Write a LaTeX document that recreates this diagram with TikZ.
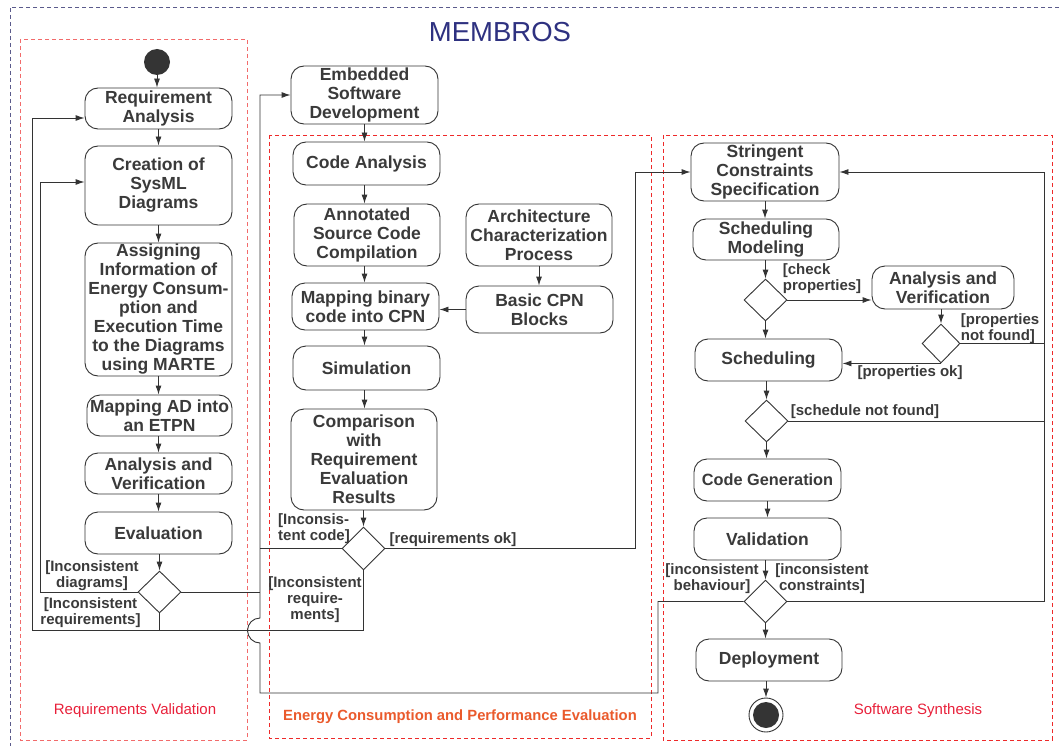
\documentclass[tikz,border=0pt]{standalone}
\usepackage{fontspec}
\setmainfont{Liberation Sans}
\usetikzlibrary{arrows.meta,shapes.geometric}
\definecolor{ink}{HTML}{3A3A3A}
\definecolor{edge}{HTML}{333333}
\definecolor{lanered}{HTML}{EE2A2A}
\definecolor{lanepink}{HTML}{F26B6B}
\definecolor{outerline}{HTML}{5B5B8C}
\definecolor{titleblue}{HTML}{2E3180}
\definecolor{lblred}{HTML}{E8203A}
\definecolor{lblorange}{HTML}{EA5A2C}

\begin{document}
\begin{tikzpicture}[x=1pt,y=-1pt,
  act/.style={draw=edge, line width=0.9pt, rounded corners=13pt, fill=white,
    text=ink, font=\bfseries\fontsize{17.5}{19}\selectfont, align=center, inner sep=0pt},
  dec/.style={draw=edge, line width=0.9pt, diamond, inner sep=0pt, fill=white},
  guard/.style={text=ink, font=\bfseries\fontsize{15}{16}\selectfont, inner sep=0pt},
  flow/.style={draw=edge, line width=0.9pt},
  arr/.style={flow, -{Latex[length=9pt,width=6pt]}},
  lanebox/.style={dash pattern=on 4pt off 3pt, line width=0.9pt},
  lanetitle/.style={font=\fontsize{15}{16}\selectfont, inner sep=0pt}
]
\useasboundingbox (0,0) rectangle (1059,746);

% frame and swimlanes
\draw[outerline, lanebox] (1059,7) -- (10,7) -- (10,746);
\node[text=titleblue, font=\fontsize{27.5}{30}\selectfont, inner sep=0pt] (title) at (500,32) {MEMBROS};
\draw[lanepink, lanebox] (20,39) rectangle (247,740);
\draw[lanered, lanebox] (269,135) rectangle (651,738);
\draw[lanered, lanebox] (663,135) rectangle (1052,740);
\node[lanetitle, text=lblred] (laneA) at (135,711) {Requirements Validation};
\node[lanetitle, text=lblorange, font=\bfseries\fontsize{14.8}{16}\selectfont] (laneB) at (460,717) {Energy Consumption and Performance Evaluation};
\node[lanetitle, text=lblred] (laneC) at (918,711) {Software Synthesis};

% requirements validation
\node[circle, fill=ink!90!black, minimum size=26, inner sep=0pt] (init) at (157,62) {};
\node[act, minimum width=147, minimum height=41] (ra) at (158.5,108.5) {Requirement\\Analysis};
\node[act, minimum width=147, minimum height=79] (sysml) at (158.5,185.5) {Creation of\\SysML\\Diagrams};
\node[act, minimum width=147, minimum height=133] (assign) at (158.5,309.5) {Assigning\\Information of\\Energy Consum-\\ption and\\Execution Time\\to the Diagrams\\using MARTE};
\node[act, minimum width=145, minimum height=41] (etpn) at (159.5,415.5) {Mapping AD into\\an ETPN};
\node[act, minimum width=147, minimum height=41] (av1) at (158.5,473.5) {Analysis and\\Verification};
\node[act, minimum width=147, minimum height=42] (eval) at (158.5,533) {Evaluation};
\node[dec, minimum width=43, minimum height=42] (d1) at (159.5,592) {};

% energy consumption and performance evaluation
\node[act, minimum width=147, minimum height=58] (esd) at (364.5,95) {Embedded\\Software\\Development};
\node[act, minimum width=147, minimum height=43] (ca) at (366.5,163.5) {Code Analysis};
\node[act, minimum width=146, minimum height=62] (asc) at (367,235) {Annotated\\Source Code\\Compilation};
\node[act, minimum width=147, minimum height=47] (mb) at (365.5,306.5) {Mapping binary\\code into CPN};
\node[act, minimum width=146, minimum height=62] (acp) at (539,235) {Architecture\\Characterization\\Process};
\node[act, minimum width=147, minimum height=47] (cpn) at (539.5,309.5) {Basic CPN\\Blocks};
\node[act, minimum width=147, minimum height=44] (sim) at (366.5,368) {Simulation};
\node[act, minimum width=146, minimum height=101] (cmp) at (364,459.5) {Comparison\\with\\Requirement\\Evaluation\\Results};
\node[dec, minimum width=43, minimum height=43] (d2) at (363.5,548.5) {};

% software synthesis
\node[act, minimum width=148, minimum height=58] (scs) at (765,172) {Stringent\\Constraints\\Specification};
\node[act, minimum width=146, minimum height=41] (sm) at (766,239.5) {Scheduling\\Modeling};
\node[dec, minimum width=43, minimum height=42] (d3) at (765.5,300) {};
\node[act, minimum width=142, minimum height=43] (av2) at (943,287.5) {Analysis and\\Verification};
\node[dec, minimum width=38, minimum height=39] (d4) at (941,343.5) {};
\node[act, minimum width=147, minimum height=42] (sch) at (768.5,360) {Scheduling};
\node[dec, minimum width=43, minimum height=42] (d5) at (766.5,421) {};
\node[act, minimum width=147, minimum height=42, font=\bfseries\fontsize{16.3}{19}\selectfont] (cg) at (767.5,480) {Code Generation};
\node[act, minimum width=147, minimum height=42] (val) at (767.5,539) {Validation};
\node[dec, minimum width=43, minimum height=43] (d6) at (765.5,601.5) {};
\node[act, minimum width=146, minimum height=42] (dep) at (769,660) {Deployment};
\node[circle, draw=edge, line width=0.9pt, minimum size=34, inner sep=0pt] (fin) at (766,715) {};
\node[circle, fill=ink!90!black, minimum size=26, inner sep=0pt] (fincore) at (fin.center) {};

% main sequences
\draw[arr] (init) -- (init |- ra.north);
\draw[arr] (ra.south) -- (ra.south |- sysml.north);
\draw[arr] (sysml.south) -- (sysml.south |- assign.north);
\draw[arr] (assign.south) -- (assign.south |- etpn.north);
\draw[arr] (av1.north |- etpn.south) -- (av1.north);
\draw[arr] (av1.south) -- (av1.south |- eval.north);
\draw[arr] (d1.north |- eval.south) -- (d1.north);

\draw[arr] (esd.south) -- (esd.south |- ca.north);
\draw[arr] (esd.south |- ca.south) -- (esd.south |- asc.north);
\draw[arr] (esd.south |- asc.south) -- (esd.south |- mb.north);
\draw[arr] (esd.south |- mb.south) -- (esd.south |- sim.north);
\draw[arr] (esd.south |- sim.south) -- (esd.south |- cmp.north);
\draw[arr] (d2.north |- cmp.south) -- (d2.north);
\draw[arr] (acp.south) -- (acp.south |- cpn.north);
\draw[arr] (cpn.west) -- (cpn.west -| mb.east);

\draw[arr] (scs.south) -- (scs.south |- sm.north);
\draw[arr] (d3.north |- sm.south) -- (d3.north);
\draw[arr] (d3.south) -- (d3.south |- sch.north);
\draw[arr] (d5.north |- sch.south) -- (d5.north);
\draw[arr] (d5.south) -- (d5.south |- cg.north);
\draw[arr] (cg.south) -- (cg.south |- val.north);
\draw[arr] (d6.north |- val.south) -- (d6.north);
\draw[arr] (d6.south) -- (d6.south |- dep.north);
\draw[arr] (fin.north |- dep.south) -- (fin.north);

% decision branches: requirements validation
\coordinate (lA) at (40,592);
\coordinate (lB) at (40,182);
\draw[arr] (d1.west) -- (lA) -- (lB) -- (lB -| sysml.west);
\coordinate (bR) at (363.5,630);
\coordinate (bL) at (32,630);
\coordinate (bT) at (32,118);
\draw[arr] (d2.south) -- (bR) -- (bL) -- (bT) -- (bT -| ra.west);
\draw[flow] (d1.south) -- (d1.south |- bR);
\coordinate (vJ) at (260,592);
\draw[flow] (d1.east) -- (vJ);
\coordinate (vC) at (260,548.5);
\draw[flow] (d2.west) -- (vC);

% decision branches: back to embedded software development
\coordinate (gL) at (658,601.5);
\coordinate (gB) at (658,693);
\coordinate (gC) at (260,693);
\coordinate (hopLow) at (260,643);
\coordinate (vTop) at (260,95);
\draw[arr] (d6.west) -- (gL) -- (gB) -- (gC) -- (hopLow)
  arc[start angle=90, end angle=270, radius=12.5] -- (vTop) -- (esd.west);

% requirements ok
\coordinate (okA) at (635,548.5);
\coordinate (okB) at (635,172);
\draw[arr] (d2.east) -- (okA) -- (okB) -- (scs.west);

% software synthesis branches
\draw[arr] (d3.east) -- (d3.east -| av2.west);
\draw[arr] (d4.north |- av2.south) -- (d4.north);
\draw[arr] (d4.south) -- (d4.south -| sch.east);
\coordinate (rB) at (1044,601.5);
\coordinate (rT) at (1044,172);
\draw[arr] (d6.east) -- (rB) -- (rT) -- (scs.east);
\draw[flow] (d4.east) -- (d4.east -| rT);
\draw[flow] (d5.east) -- (d5.east -| rT);

% guards
\node[guard, align=center] (gid) at (92,576) {[Inconsistent\\diagrams]};
\node[guard, align=center] (gir) at (90.5,613) {[Inconsistent\\requirements]};
\node[guard, align=left] (gic) at (314,529) {[Inconsis-\\tent code]};
\node[guard, align=center] (gir2) at (315,600) {[Inconsistent\\require-\\ments]};
\node[guard] (grok) at (453,540) {[requirements ok]};
\node[guard, align=left] (gcp) at (822,279) {[check\\properties]};
\node[guard, align=left] (gpnf) at (1000,329) {[properties\\not found]};
\node[guard] (gpok) at (910,373) {[properties ok]};
\node[guard] (gsnf) at (865,412) {[schedule not found]};
\node[guard, align=center] (gib) at (712,579) {[inconsistent\\behaviour]};
\node[guard, align=center] (gicc) at (822,579) {[inconsistent\\constraints]};
\end{tikzpicture}
\end{document}
